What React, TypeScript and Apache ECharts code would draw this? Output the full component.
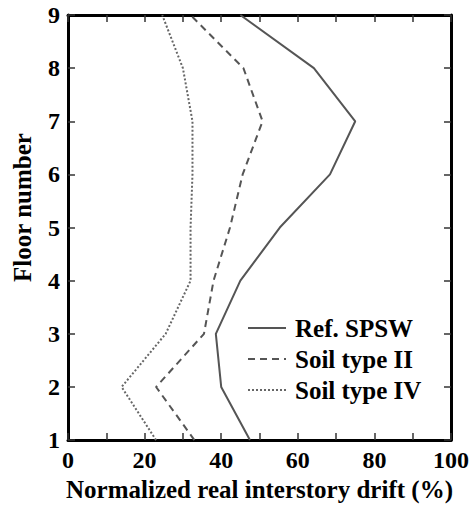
import React, { useEffect, useRef } from "react";
import * as echarts from "echarts";

const floors = [1, 2, 3, 4, 5, 6, 7, 8, 9];
const refSPSW = [47.5, 40, 38.6, 45, 55.3, 68.4, 75, 64.2, 45];
const soilII = [33, 23, 35.5, 38, 42.3, 45.6, 50.8, 45.8, 32];
const soilIV = [23, 14, 25.5, 32, 32, 32.5, 32.5, 30, 24.6];
const seriesNames = ["Ref. SPSW", "Soil type II", "Soil type IV"];

const FONT = "Liberation Serif";

export default function App() {
  const ref = useRef<HTMLDivElement>(null);
  useEffect(() => {
    if (!ref.current) return;
    const chart = echarts.init(ref.current, null, { renderer: "svg" });
    const toPairs = (vals: number[]) => vals.map((v, i) => [v, floors[i]]);
    const lineColor = "#555555";
    const axisCommon = {
      axisLine: { show: true, onZero: false, lineStyle: { color: "#000", width: 3 } },
      axisTick: { show: true, inside: true, length: 7, lineStyle: { color: "#333", width: 1.5 } },
      splitLine: { show: false },
    };
    chart.setOption({
      animation: false,
      backgroundColor: "#fff",
      grid: { left: 68, right: 23, top: 15, bottom: 58 },
      legend: {
        orient: "vertical",
        left: 242,
        top: 310,
        itemWidth: 38,
        itemHeight: 14,
        itemGap: 5,
        data: seriesNames,
        itemStyle: { opacity: 0, color: "transparent", borderWidth: 0 },
        textStyle: {
          fontFamily: FONT,
          fontWeight: "bold",
          fontSize: 25,
          lineHeight: 26,
          color: "#000",
          padding: [0, 0, 0, 4],
        },
      },
      xAxis: [
        {
          type: "value",
          min: 0,
          max: 100,
          interval: 10,
          position: "bottom",
          ...axisCommon,
          axisLabel: {
            formatter: (v: number) => (v % 20 === 0 ? String(v) : ""),
            fontFamily: FONT,
            fontWeight: "bold",
            fontSize: 24,
            color: "#000",
            margin: 8,
          },
          name: "Normalized real interstory drift (%)",
          nameLocation: "middle",
          nameGap: 35,
          nameTextStyle: { fontFamily: FONT, fontWeight: "bold", fontSize: 25, color: "#000" },
        },
        {
          type: "value",
          min: 0,
          max: 100,
          interval: 10,
          position: "top",
          ...axisCommon,
          axisLabel: { show: false },
        },
      ],
      yAxis: [
        {
          type: "value",
          min: 1,
          max: 9,
          interval: 1,
          position: "left",
          ...axisCommon,
          axisLabel: { fontFamily: FONT, fontWeight: "bold", fontSize: 24, color: "#000", margin: 8 },
          name: "Floor number",
          nameLocation: "middle",
          nameGap: 33,
          nameTextStyle: {
            fontFamily: FONT,
            fontWeight: "bold",
            fontSize: 25,
            color: "#000",
            padding: [0, 0, 0, 40],
          },
        },
        {
          type: "value",
          min: 1,
          max: 9,
          interval: 1,
          position: "right",
          ...axisCommon,
          axisLabel: { show: false },
        },
      ],
      series: [
        {
          name: seriesNames[0],
          type: "line",
          data: toPairs(refSPSW),
          symbol: "none",
          lineStyle: { color: lineColor, width: 2, type: "solid" },
          itemStyle: { color: lineColor },
        },
        {
          name: seriesNames[1],
          type: "line",
          data: toPairs(soilII),
          symbol: "none",
          lineStyle: { color: lineColor, width: 2, type: [7, 5] },
          itemStyle: { color: lineColor },
        },
        {
          name: seriesNames[2],
          type: "line",
          data: toPairs(soilIV),
          symbol: "none",
          lineStyle: { color: "#666666", width: 2, type: [2, 2] },
          itemStyle: { color: "#666666" },
        },
      ],
    });
    return () => chart.dispose();
  }, []);
  return <div ref={ref} style={{ width: 474, height: 507, position: "absolute", left: 0, top: 0 }} />;
}
